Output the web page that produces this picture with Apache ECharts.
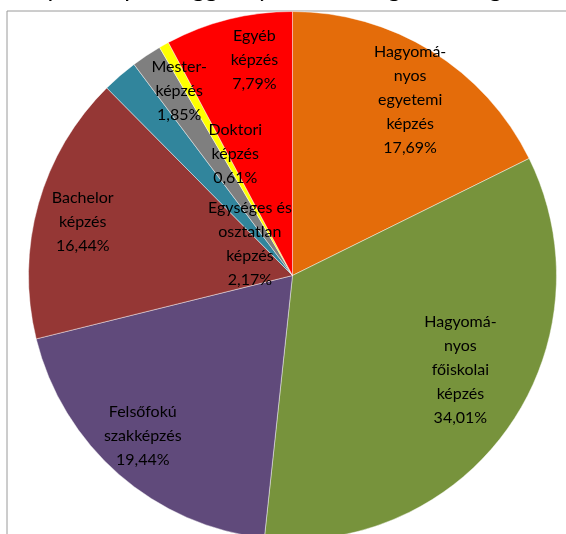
<!DOCTYPE html>
<html>
<head>
<meta charset="utf-8">
<script src="https://cdn.jsdelivr.net/npm/echarts@6/dist/echarts.min.js"></script>
<style>
  html, body { margin: 0; padding: 0; background: #fff; }
  #chart { width: 566px; height: 534px; }
</style>
</head>
<body>
<div id="chart"></div>
<script>
// kategóriák (címkék sortöréssel, ahogy az ábrán)
var categories = [
  'Hagyomá-\nnyos\negyetemi\nképzés',
  'Hagyomá-\nnyos\nfőiskolai\nképzés',
  'Felsőfokú\nszakképzés',
  'Bachelor\nképzés',
  'Egységes és\nosztatlan\nképzés',
  'Mester-\nképzés',
  'Doktori\nképzés',
  'Egyéb\nképzés'
]
var shares = [17.69, 34.01, 19.44, 16.44, 2.17, 1.85, 0.61, 7.79]
var colors = ['#E46C0A', '#77933C', '#604A7B', '#953735', '#31859C', '#7F7F7F', '#FFFF00', '#FF0000']

// címkék helye: sugár aránya és elforgatás fokban (csak elrendezés)
var labelRadius = [0.80, 0.73, 0.83, 0.82, 0.20, 0.82, 0.51, 0.83]
var labelTurn = [2, -5.5, 2, -1.4, -13, 2, 4, 4]

var cx = 292.5, cy = 275.5, R = 264

var chart = echarts.init(document.getElementById('chart'))

var total = shares.reduce(function (a, b) { return a + b }, 0)
var mids = []
var acc = 0
shares.forEach(function (v) {
  mids.push((acc + v / 2) / total * 360)
  acc += v
})

chart.setOption({
  animation: false,
  title: {
    text: 'A képzési típus függvényében a hallgatók megoszlása',
    left: -6,
    top: -29,
    textStyle: { fontFamily: 'Lato', fontSize: 25, fontWeight: 'normal', color: '#000' }
  },
  graphic: [{
    type: 'rect',
    shape: { x: 7, y: 11, width: 620, height: 600 },
    style: { fill: null, stroke: '#9a9a9a', lineWidth: 1 },
    z: -1
  }],
  series: [{
    type: 'pie',
    center: [cx, cy],
    radius: R,
    startAngle: 90,
    clockwise: true,
    avoidLabelOverlap: false,
    itemStyle: { borderColor: 'rgba(255,255,255,0.55)', borderWidth: 0.8 },
    label: {
      show: true,
      position: 'inside',
      color: '#000',
      fontFamily: 'Lato',
      fontSize: 16,
      lineHeight: 24,
      align: 'center',
      formatter: function (p) {
        return p.name + '\n' + p.value.toFixed(2).replace('.', ',') + '%'
      }
    },
    labelLine: { show: false },
    labelLayout: function (params) {
      var i = params.dataIndex
      var a = (mids[i] + labelTurn[i]) * Math.PI / 180
      var r = R * labelRadius[i]
      return {
        x: cx + r * Math.sin(a),
        y: cy - r * Math.cos(a),
        align: 'center',
        verticalAlign: 'middle'
      }
    },
    emphasis: { disabled: true },
    data: categories.map(function (c, i) {
      return { name: c, value: shares[i], itemStyle: { color: colors[i] } }
    })
  }]
})
</script>
</body>
</html>
